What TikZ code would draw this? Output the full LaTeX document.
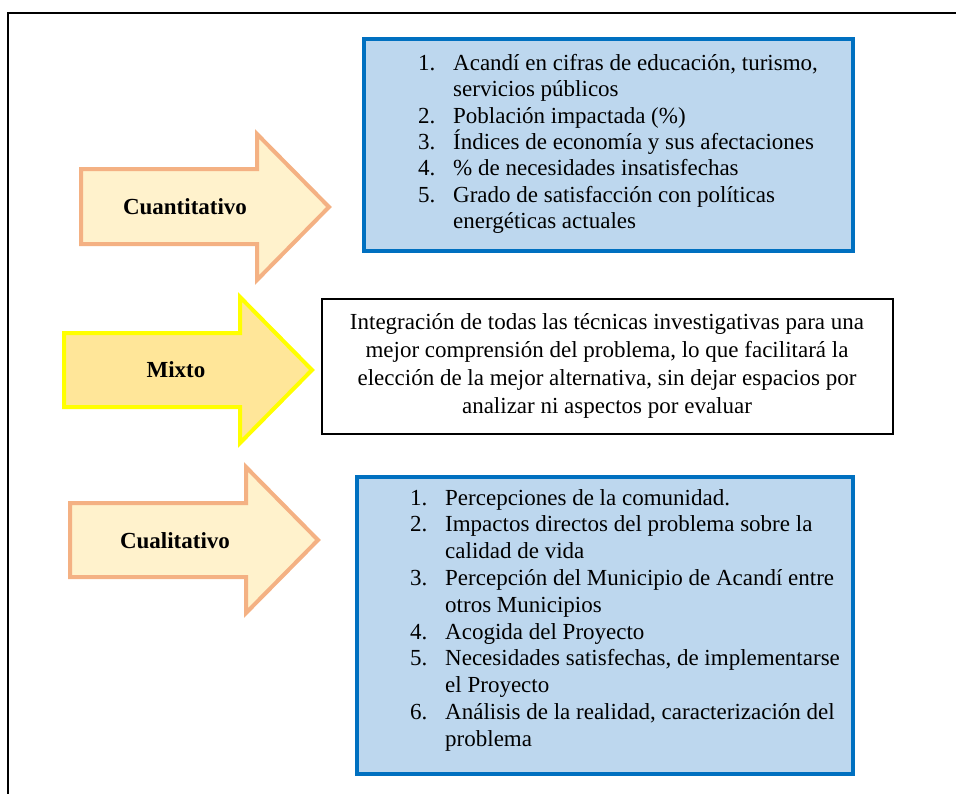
\documentclass[tikz,border=0pt]{standalone}
\usepackage{fontspec}
\setmainfont{Liberation Serif}
\definecolor{orstroke}{HTML}{F4B183}
\definecolor{orfill}{HTML}{FFF2CC}
\definecolor{yelstroke}{HTML}{FFFF00}
\definecolor{yelfill}{HTML}{FFE699}
\definecolor{bluestroke}{HTML}{0070C0}
\definecolor{bluefill}{HTML}{BDD7EE}
\tikzset{
  arroworange/.style={draw=orstroke,fill=orfill,line width=4,line join=miter},
  arrowyellow/.style={draw=yelstroke,fill=yelfill,line width=4,line join=miter},
  bluebox/.style={draw=bluestroke,fill=bluefill,line width=4},
  blackbox/.style={draw=black,fill=white,line width=1.3},
  lbl/.style={font=\fontsize{23}{27}\selectfont\bfseries,inner sep=0},
  listtext/.style={font=\fontsize{23}{26.4}\selectfont,align=left,inner sep=0,anchor=north west},
  listtextb/.style={font=\fontsize{23}{26.8}\selectfont,align=left,inner sep=0,anchor=north west},
  midtext/.style={font=\fontsize{23}{28}\selectfont,align=center,inner sep=0}
}
\newcommand{\itm}[1]{\makebox[35pt][l]{#1}}
\newcommand{\ind}{\hspace*{35pt}}
\begin{document}
\begin{tikzpicture}[x=1pt,y=-1pt]
\useasboundingbox (0,0) rectangle (956,793);
\clip (0,0) rectangle (956,793);
\fill[white] (0,0) rectangle (956,793);
% outer frame
\draw[line width=2.5] (8,800) -- (8,13) -- (970,13);

% top blue box
\draw[bluebox] (364,39) rectangle (853,251);
\node[listtext] (qlist) at (418,54) {%
\itm{1.}Acandí en cifras de educación, turismo,\\
\ind servicios públicos\\
\itm{2.}Población impactada (\%)\\
\itm{3.}Índices de economía y sus afectaciones\\
\itm{4.}\% de necesidades insatisfechas\\
\itm{5.}Grado de satisfacción con políticas\\
\ind energéticas actuales};

% middle box
\draw[blackbox] (322,299) rectangle (893,434);
\node[midtext] (mtext) at (607,366) {%
Integración de todas las técnicas investigativas para una\\
mejor comprensión del problema, lo que facilitará la\\
elección de la mejor alternativa, sin dejar espacios por\\
analizar ni aspectos por evaluar};

% bottom blue box
\draw[bluebox] (357,477) rectangle (853,774);
\node[listtextb] (clist) at (410,489) {%
\itm{1.}Percepciones de la comunidad.\\
\itm{2.}Impactos directos del problema sobre la\\
\ind calidad de vida\\
\itm{3.}Percepción del Municipio de Acandí entre\\
\ind otros Municipios\\
\itm{4.}Acogida del Proyecto\\
\itm{5.}Necesidades satisfechas, de implementarse\\
\ind el Proyecto\\
\itm{6.}Análisis de la realidad, caracterización del\\
\ind problema};

% arrows
\draw[arroworange] (81,169) -- (257,169) -- (257,134) -- (329,207) -- (257,280) -- (257,244) -- (81,244) -- cycle;
\node[lbl] (cuan) at (185,207) {Cuantitativo};

\draw[arrowyellow] (64,333) -- (240,333) -- (240,297) -- (312,370) -- (240,443) -- (240,407) -- (64,407) -- cycle;
\node[lbl] (mix) at (176,370) {Mixto};

\draw[arroworange] (70,503) -- (246,503) -- (246,467) -- (318,540) -- (246,613) -- (246,577) -- (70,577) -- cycle;
\node[lbl] (cual) at (175,541) {Cualitativo};
\end{tikzpicture}
\end{document}
